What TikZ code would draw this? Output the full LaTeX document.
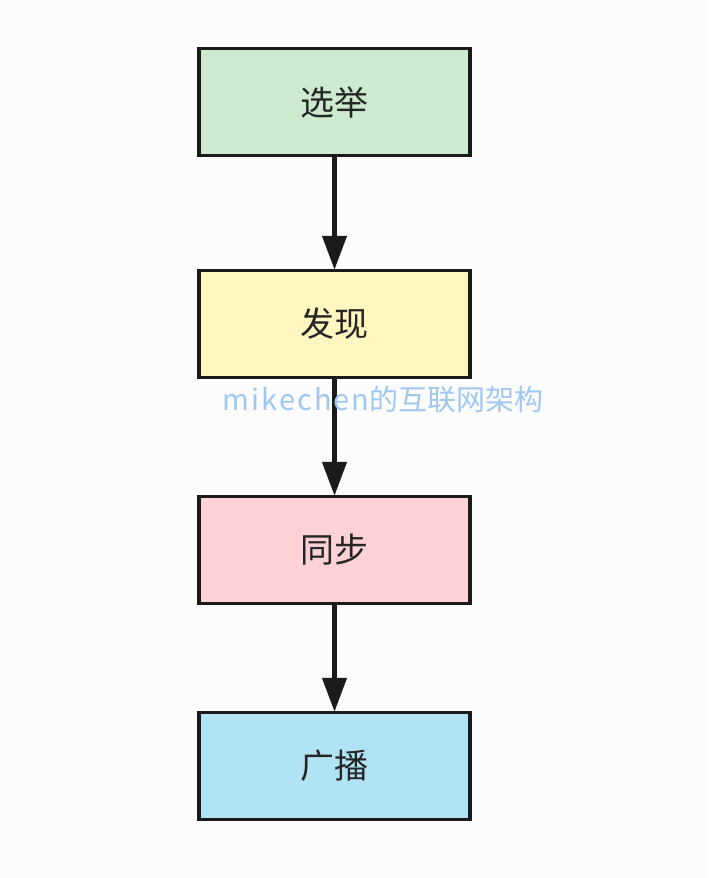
\documentclass[tikz,border=0pt]{standalone}
\usepackage{fontspec}
\newfontfamily\cjk{Noto Sans CJK SC}
\setmainfont{Noto Sans CJK SC}
\usetikzlibrary{arrows.meta}
\definecolor{bg}{RGB}{252,252,252}
\definecolor{edge}{RGB}{26,26,26}
\definecolor{cgreen}{RGB}{205,233,206}
\definecolor{cyellow}{RGB}{255,246,192}
\definecolor{cpink}{RGB}{255,210,216}
\definecolor{cblue}{RGB}{176,228,245}
\definecolor{wm}{RGB}{160,200,238}
\tikzset{
  stepbox/.style={draw=edge, line width=3.5pt, minimum width=271pt, minimum height=107pt, inner sep=0pt, font=\cjk\fontsize{34}{36}\selectfont, text=black!85},
  conn/.style={draw=edge, line width=4.5pt, -{Triangle[length=34pt,width=24pt]}, shorten >=-1pt}
}
\begin{document}
\begin{tikzpicture}[x=1pt,y=-1pt]
\fill[bg] (0,0) rectangle (710,878);
\useasboundingbox (0,0) rectangle (710,878);
\node[stepbox, fill=cgreen] (a) at (334.5,102) {选举};
\node[stepbox, fill=cyellow] (b) at (334.5,324) {发现};
\node[stepbox, fill=cpink] (c) at (334.5,550) {同步};
\node[stepbox, fill=cblue] (d) at (334.5,766) {广播};
\draw[conn] (a) -- (b);
\draw[conn] (b) -- (c);
\draw[conn] (c) -- (d);
\node[text=wm, font=\cjk\fontsize{29}{31}\selectfont, inner sep=0pt] (w) at (383,400) {m\kern2pt i\kern2pt k\kern2pt e\kern2pt c\kern2pt h\kern2pt e\kern2pt n的互联网架构};
\end{tikzpicture}
\end{document}
